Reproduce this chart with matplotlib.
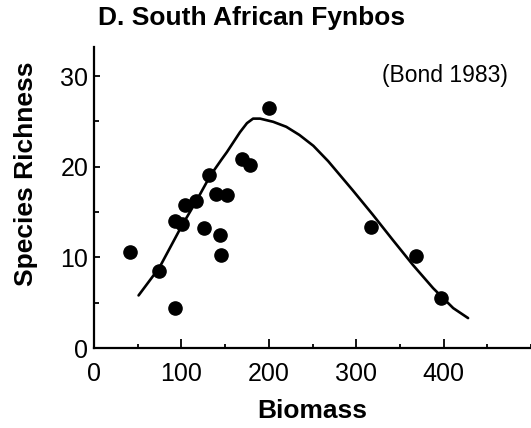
import matplotlib
matplotlib.use("Agg")
import matplotlib.pyplot as plt
from matplotlib.ticker import MultipleLocator

plt.rcParams["font.family"] = ["Liberation Sans", "DejaVu Sans"]

# observed plots (biomass, species richness)
biomass = [41, 74, 93, 93, 101, 104, 117, 126, 132, 140, 152, 144, 145,
           169, 179, 200, 317, 368, 397]
richness = [10.6, 8.5, 4.4, 14.0, 13.7, 15.8, 16.2, 13.2, 19.1, 17.0, 16.9,
            12.5, 10.3, 20.8, 20.2, 26.5, 13.3, 10.2, 5.5]

# fitted curve
curve_x = [51, 75, 100, 117, 133, 146, 152, 167, 175, 182, 190, 205, 220,
           235, 251, 268, 296, 319, 342, 365, 388, 411, 428]
curve_y = [5.8, 8.9, 13.4, 16.2, 19.0, 20.8, 21.6, 23.8, 24.8, 25.3, 25.3,
           24.95, 24.4, 23.5, 22.3, 20.6, 17.4, 14.7, 11.9, 9.15, 6.6, 4.4, 3.3]

fig = plt.figure(figsize=(5.31, 4.28), dpi=100)
ax = fig.add_axes([94 / 531, 1 - 348 / 428, 437 / 531, 301 / 428])

ax.plot(curve_x, curve_y, color="black", linewidth=1.9,
        solid_capstyle="round", solid_joinstyle="round")
ax.plot(biomass, richness, "o", color="black", markersize=9.5)

ax.set_xlim(0, 500)
ax.set_ylim(0, 33.2)
ax.spines["top"].set_visible(False)
ax.spines["right"].set_visible(False)
ax.spines["left"].set_linewidth(1.6)
ax.spines["bottom"].set_linewidth(1.6)

ax.set_xticks([0, 100, 200, 300, 400])
ax.set_yticks([0, 10, 20, 30])
ax.xaxis.set_minor_locator(MultipleLocator(50))
ax.yaxis.set_minor_locator(MultipleLocator(5))
ax.tick_params(axis="x", which="major", direction="in", length=6.5, width=1.3,
               labelsize=18, pad=10)
ax.tick_params(axis="x", which="minor", direction="in", length=3, width=1.3)
ax.tick_params(axis="y", which="major", direction="in", length=4, width=1.3,
               labelsize=18, pad=4)
ax.tick_params(axis="y", which="minor", direction="in", length=3.5, width=1.3)

ax.set_xlabel("Biomass", fontsize=19, fontweight="bold")
ax.set_ylabel("Species Richness", fontsize=19, fontweight="bold")
ax.xaxis.set_label_coords(0.5, -0.209)
ax.yaxis.set_label_coords(-0.156, 0.578)
ax.xaxis.label.set_va("center")
ax.yaxis.label.set_va("center")

ax.text(473, 30.1, "(Bond 1983)", fontsize=16.5, ha="right", va="center")
fig.text(252 / 531, 1 - 18 / 428, "D. South African Fynbos", fontsize=19,
         fontweight="bold", ha="center", va="center")

fig.savefig("out.png", dpi=100)
